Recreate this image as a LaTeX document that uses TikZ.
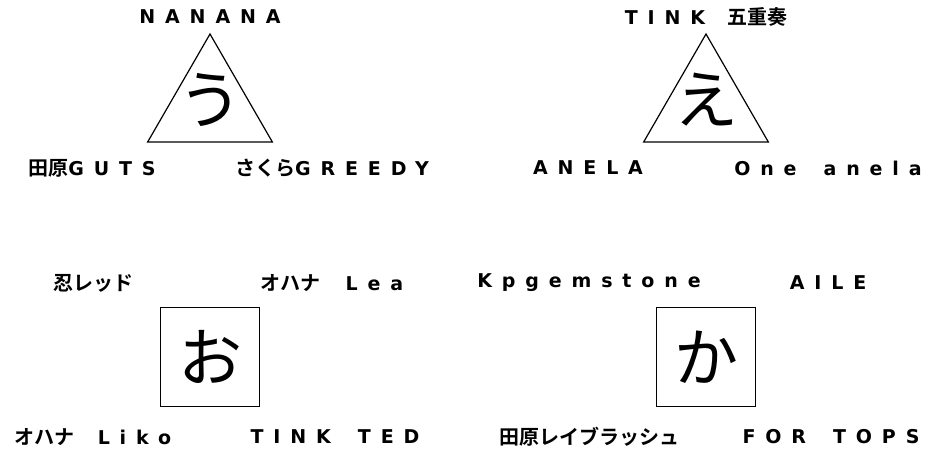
\documentclass[tikz,border=0pt]{standalone}
\usepackage{fontspec}
\usepackage{tikz}
\usetikzlibrary{positioning,shapes.geometric}

\newfontfamily\jp{Noto Sans CJK JP}
\newfontfamily\jpb{Noto Sans CJK JP Bold}
\newfontfamily\latb[LetterSpace=52]{DejaVu Sans Bold}
\newcommand{\spc}[1]{{\latb\fontsize{19}{19}\selectfont #1}}
\newcommand{\wsp}{\hspace{27pt}}
\newcommand{\kanafont}{\jp\fontsize{64}{64}\selectfont}
\newcommand{\lblfont}{\jpb\fontsize{20}{20}\selectfont}

\tikzset{
  tri/.style={draw, line width=1.2pt, regular polygon, regular polygon sides=3,
    minimum size=144pt, inner sep=0pt},
  sq/.style={draw, line width=1.2pt, minimum size=99pt, inner sep=0pt, font=\kanafont},
  kana/.style={font=\kanafont, inner sep=0pt},
  lbl/.style={font=\lblfont, inner sep=0pt}
}

\begin{document}
\begin{tikzpicture}[x=1pt, y=-1pt, node distance=496pt, on grid]
    \useasboundingbox (0,0) rectangle (947,452);
    % triangles
    \node[tri] (t1) at (210,106) {};
    \node[tri] (t2) [right of=t1] {};
    \node[kana] (u) at ([yshift=6pt]t1.center) {う};
    \node[kana] (e) at ([yshift=6pt]t2.center) {え};
    % boxes
    \node[sq] (b1) [below of=t1, node distance=251pt] {お};
    \node[sq] (b2) [right of=b1] {か};
    % labels round the triangles
    \node[lbl, above=89pt of t1] (t1a) {\spc{NANANA}};
    \node[lbl, below left=62pt and 118pt of t1] (t1l) {田原\spc{GUTS}};
    \node[lbl, below right=62pt and 122pt of t1] (t1r) {さくら\spc{GREEDY}};
    \node[lbl, above=89pt of t2] (t2a) {\spc{TINK}\hspace{22pt}五重奏};
    \node[lbl, below left=62pt and 118pt of t2] (t2l) {\spc{ANELA}};
    \node[lbl, below right=62pt and 122pt of t2] (t2r) {\spc{One\wsp anela}};
    % labels round the boxes
    \node[lbl, above left=74pt and 117pt of b1] (b1tl) {忍レッド};
    \node[lbl, above right=74pt and 122pt of b1] (b1tr) {オハナ\hspace{25pt}\spc{Lea}};
    \node[lbl, below left=80pt and 117pt of b1] (b1bl) {オハナ\hspace{23pt}\spc{Liko}};
    \node[lbl, below right=80pt and 125pt of b1] (b1br) {\spc{TINK\wsp TED}};
    \node[lbl, above left=74pt and 117pt of b2] (b2tl) {\spc{Kpgemstone}};
    \node[lbl, above right=74pt and 122pt of b2] (b2tr) {\spc{AILE}};
    \node[lbl, below left=80pt and 117pt of b2] (b2bl) {田原レイブラッシュ};
    \node[lbl, below right=80pt and 125pt of b2] (b2br) {\spc{FOR\wsp TOPS}};
\end{tikzpicture}
\end{document}
